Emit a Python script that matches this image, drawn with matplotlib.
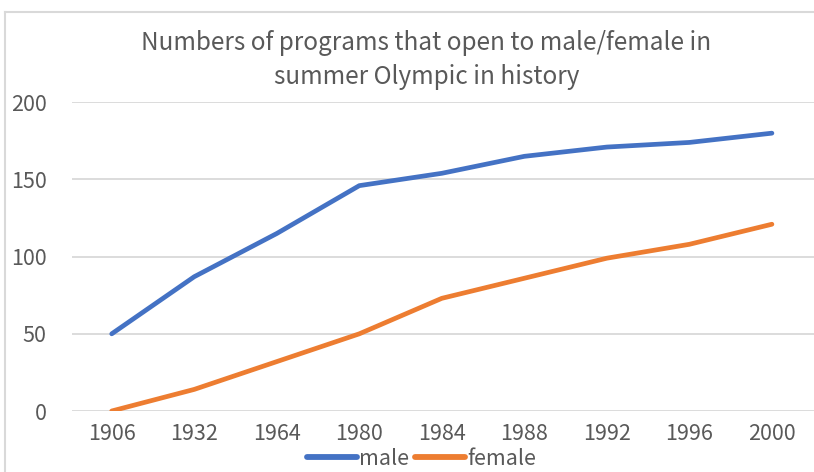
import matplotlib
matplotlib.use('Agg')
import matplotlib.pyplot as plt
from matplotlib.lines import Line2D

plt.rcParams['font.family'] = ['Noto Sans CJK SC', 'DejaVu Sans']

years = ['1906', '1932', '1964', '1980', '1984', '1988', '1992', '1996', '2000']
male = [50, 87, 115, 146, 154, 165, 171, 174, 180]
female = [0, 14, 32, 50, 73, 86, 99, 108, 121]

text_color = '#595959'
grid_color = '#D9D9D9'

fig = plt.figure(figsize=(8.14, 4.72), dpi=100)
ax = fig.add_axes([71.7 / 814, 61 / 472, 1 - 71.7 / 814, 308.7 / 472])

x = range(len(years))
ax.plot(x, male, color='#4472C4', lw=3.4, solid_capstyle='round', label='male', zorder=3)
ax.plot(x, female, color='#ED7D31', lw=3.4, solid_capstyle='round', label='female', zorder=3)

ax.set_xlim(-0.485, 8.51)
ax.set_ylim(0, 200)
ax.set_yticks([0, 50, 100, 150, 200])
ax.set_xticks(list(x))
ax.set_xticklabels(years)
ax.grid(axis='y', color=grid_color, lw=1.3)
ax.set_axisbelow(True)
for s in ax.spines.values():
    s.set_visible(False)
ax.tick_params(length=0, labelsize=15.5, labelcolor=text_color)
ax.tick_params(axis='y', pad=18)
ax.tick_params(axis='x', pad=9)

fig.text(0.524, 1 - 60 / 472,
         'Numbers of programs that open to male/female in\nsummer Olympic in history',
         ha='center', va='center', fontsize=17.5, color=text_color, linespacing=1.35)

# chart frame (top and left edges visible)
fig.add_artist(Line2D([5 / 814, 5 / 814], [0, 1 - 12 / 472], color=grid_color, lw=1.5,
                      transform=fig.transFigure))
fig.add_artist(Line2D([5 / 814, 1], [1 - 12 / 472, 1 - 12 / 472], color=grid_color, lw=1.5,
                      transform=fig.transFigure))

leg = fig.legend(loc='center', bbox_to_anchor=(0.518, 1 - 459 / 472), ncol=2, frameon=False,
                 fontsize=15.5, handlelength=2.3, handletextpad=0.1, columnspacing=0.3,
                 borderaxespad=0)
for t in leg.get_texts():
    t.set_color(text_color)
for h in leg.legend_handles:
    h.set_linewidth(4.2)

fig.savefig('out.png', dpi=100)
